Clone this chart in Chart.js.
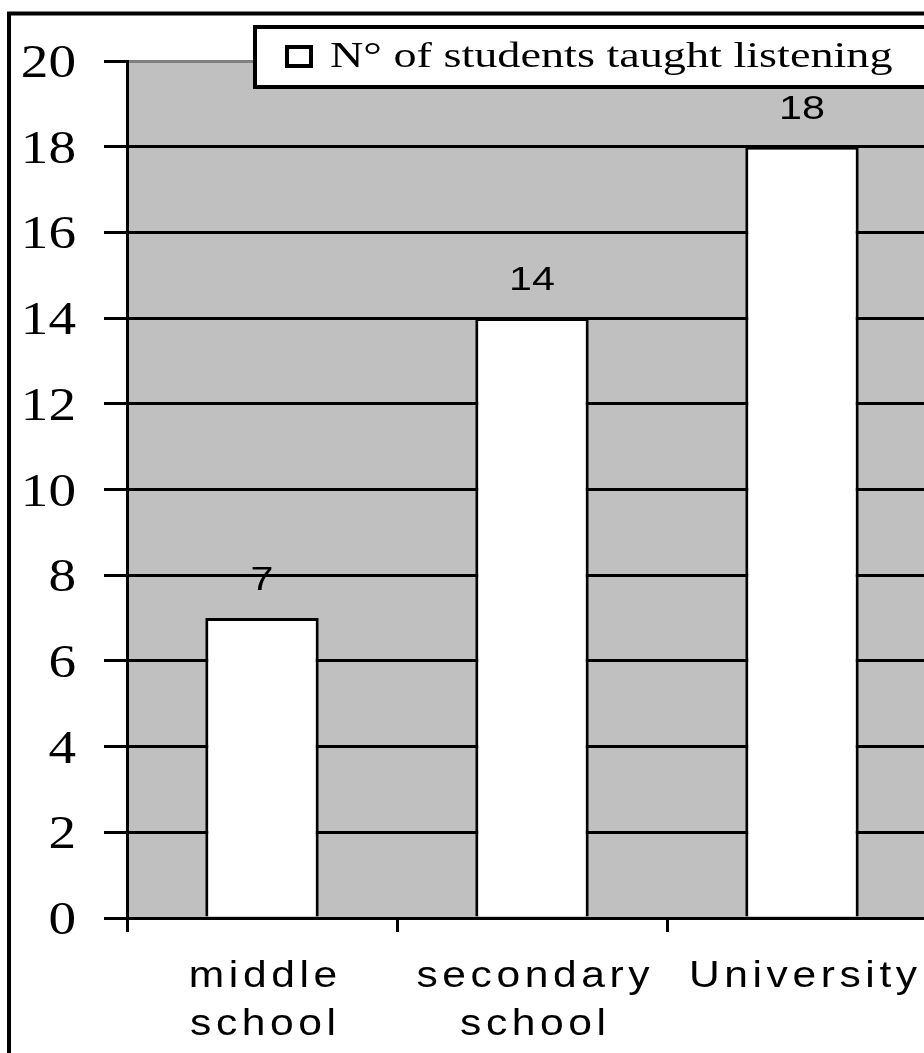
<!DOCTYPE html>
<html lang="en">
<head>
  <meta charset="UTF-8">
  <title>Students taught listening</title>
  <script src="https://cdn.jsdelivr.net/npm/chart.js"></script>
  <style>
    html, body {
      margin: 0;
      padding: 0;
      overflow: hidden;
      background: #fff;
    }
    #listeningChart {
      display: block;
    }
  </style>
</head>
<body>

  <canvas id="listeningChart" width="940" height="1053"></canvas>

  <script>
    // data
    const categories = [["middle", "school"], ["secondary", "school"], ["University"]];
    const studentCounts = [7, 14, 18];
    const seriesLabel = "N° of students taught listening";
    const yTicks = [0, 2, 4, 6, 8, 10, 12, 14, 16, 18, 20];

    const SERIF = "'Liberation Serif', 'Times New Roman', serif";
    const SANS = "'Liberation Sans', Arial, sans-serif";

    // draws text stretched horizontally like the old office export
    function drawText(ctx, text, x, y, font, align, sx, spacing) {
      ctx.save();
      ctx.font = font;
      ctx.letterSpacing = (spacing || 0) + "px";
      ctx.textBaseline = "alphabetic";
      ctx.textAlign = "left";
      const w = (ctx.measureText(text).width - (spacing || 0)) * sx;
      let left = x;
      if (align === "center") left = x - w / 2;
      if (align === "right") left = x - w;
      ctx.translate(left, y);
      ctx.scale(sx, 1);
      ctx.fillStyle = "#000";
      ctx.fillText(text, 0, 0);
      ctx.restore();
    }

    const backdrop = {
      id: "backdrop",
      beforeDraw(chart) {
        const { ctx, chartArea } = chart;
        ctx.save();
        ctx.fillStyle = "#fff";
        ctx.fillRect(0, 0, chart.width, chart.height);
        // outer frame, runs off the right and bottom
        ctx.strokeStyle = "#000";
        ctx.lineWidth = 4;
        ctx.strokeRect(9, 13.5, 1200, 1200);
        ctx.fillStyle = "#c0c0c0";
        ctx.fillRect(chartArea.left, chartArea.top, chartArea.right - chartArea.left, chartArea.bottom - chartArea.top);
        ctx.restore();
      }
    };

    const labelsPlugin = {
      id: "labelsPlugin",
      afterDraw(chart) {
        const { ctx } = chart;
        const y = chart.scales.y;
        const x = chart.scales.x;

        // y tick labels
        yTicks.forEach(v => {
          drawText(ctx, String(v), 76, y.getPixelForValue(v) + 16, "46px " + SERIF, "right", 1.2, 0);
        });

        // category labels
        categories.forEach((lines, i) => {
          const cx = x.getPixelForValue(i);
          lines.forEach((line, j) => {
            drawText(ctx, line, cx + 1, 987 + j * 48, "37px " + SANS, "center", 1.15, 4);
          });
        });

        // value labels above the bars
        const meta = chart.getDatasetMeta(0);
        meta.data.forEach((bar, i) => {
          drawText(ctx, String(studentCounts[i]), bar.x, bar.y - 28, "33px " + SANS, "center", 1.25, 0);
        });

        // legend box
        ctx.save();
        ctx.fillStyle = "#fff";
        ctx.fillRect(255, 27, 800, 60);
        ctx.strokeStyle = "#000";
        ctx.lineWidth = 4;
        ctx.strokeRect(255, 27, 800, 60);
        ctx.strokeRect(287, 47, 24, 19);
        ctx.restore();
        drawText(ctx, seriesLabel, 330, 67, "35px " + SERIF, "left", 1.32, 0);
      }
    };

    const ctx = document.getElementById("listeningChart").getContext("2d");

    new Chart(ctx, {
      type: "bar",
      data: {
        labels: categories,
        datasets: [{
          label: seriesLabel,
          data: studentCounts,
          backgroundColor: "#fff",
          borderColor: "#000",
          borderWidth: 3,
          barPercentage: 0.42,
          categoryPercentage: 1
        }]
      },
      options: {
        responsive: false,
        animation: false,
        layout: { padding: { top: 61, right: 3, left: 0, bottom: 0 } },
        plugins: {
          legend: { display: false },
          tooltip: { enabled: false }
        },
        scales: {
          x: {
            grid: {
              offset: true,
              drawOnChartArea: false,
              color: "#000",
              lineWidth: 3,
              tickLength: 14
            },
            border: { color: "#000", width: 3 },
            ticks: { display: false },
            afterFit(scale) { scale.height = 1053 - 918; }
          },
          y: {
            min: 0,
            max: 20,
            ticks: { stepSize: 2, display: false },
            grid: {
              color: c => (c.tick && c.tick.value === 20 ? "#808080" : "#000"),
              tickColor: "#000",
              lineWidth: 3,
              tickLength: 23
            },
            border: { color: "#000", width: 3 },
            afterFit(scale) { scale.width = 127; }
          }
        }
      },
      plugins: [backdrop, labelsPlugin]
    });
  </script>

</body>
</html>
